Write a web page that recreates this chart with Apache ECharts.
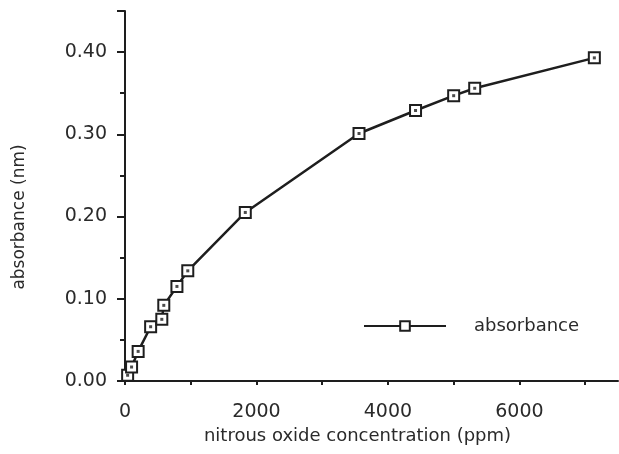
<!DOCTYPE html>
<html>
<head>
<meta charset="utf-8">
<script src="https://cdn.jsdelivr.net/npm/echarts@6/dist/echarts.min.js"></script>
<style>html,body{margin:0;padding:0;background:#fff;}#c{width:619px;height:454px;}</style>
</head>
<body>
<div id="c"></div>
<script>
var concentration = [40, 100, 200, 390, 560, 590, 790, 955, 1830, 3560, 4420, 5000, 5320, 7140];
var absorbance = [0.007, 0.017, 0.036, 0.066, 0.075, 0.092, 0.115, 0.134, 0.205, 0.301, 0.329, 0.347, 0.356, 0.393];
var seriesName = 'absorbance';
var xTitle = 'nitrous oxide concentration (ppm)';
var yTitle = 'absorbance (nm)';

var pts = concentration.map(function (c, i) { return [c, absorbance[i]]; });
var ink = '#1e1e1e';
var txt = '#2a2a2a';
var font = 'DejaVu Sans';
var chart = echarts.init(document.getElementById('c'), null, {renderer: 'canvas'});
chart.setOption({
  animation: false,
  backgroundColor: '#fff',
  grid: {left: 125, top: 11, right: 1, bottom: 73, containLabel: false},
  legend: {
    data: [seriesName],
    left: 358, top: 312,
    itemWidth: 82, itemHeight: 12,
    textStyle: {fontFamily: font, fontSize: 18, color: txt, padding: [0, 0, 0, 23]}
  },
  xAxis: [{
    type: 'value', min: 0, max: 7500, interval: 1000,
    name: xTitle, nameLocation: 'middle', nameGap: 41,
    nameTextStyle: {fontFamily: font, fontSize: 18, color: txt, padding: [0, 28, 0, 0]},
    axisLine: {lineStyle: {color: ink, width: 2}},
    axisTick: {length: 4, lineStyle: {color: ink, width: 2}},
    axisLabel: {fontFamily: font, fontSize: 19, color: txt, margin: 22, showMaxLabel: false,
      formatter: function (v) { return v % 2000 === 0 ? String(v) : ''; }},
    splitLine: {show: false}
  }],
  yAxis: [{
    type: 'value', min: 0, max: 0.45, interval: 0.05,
    name: yTitle, nameLocation: 'middle', nameGap: 97,
    nameTextStyle: {fontFamily: font, fontSize: 17, color: txt, padding: [0, 42, 0, 0]},
    axisLine: {lineStyle: {color: ink, width: 2}},
    axisTick: {length: 5, lineStyle: {color: ink, width: 2}},
    axisLabel: {fontFamily: font, fontSize: 19, color: txt, margin: 18, showMaxLabel: false,
      formatter: function (v) { var r = Math.round(v * 100); return (r % 10 === 0) ? (r / 100).toFixed(2) : ''; }},
    splitLine: {show: false}
  }, {
    type: 'value', min: 0, max: 0.45, interval: 0.1, position: 'left',
    axisLine: {show: false},
    axisTick: {length: 8, lineStyle: {color: ink, width: 2}},
    axisLabel: {show: false},
    splitLine: {show: false}
  }],
  series: [{
    name: seriesName, type: 'line', data: pts,
    lineStyle: {color: ink, width: 2.5},
    symbol: 'rect', symbolSize: 11,
    itemStyle: {color: '#fff', borderColor: ink, borderWidth: 2},
    z: 2
  }, {
    name: 'dots', type: 'scatter', data: pts, silent: true,
    symbol: 'rect', symbolSize: 3,
    itemStyle: {color: ink},
    z: 3
  }]
});
</script>
</body>
</html>
